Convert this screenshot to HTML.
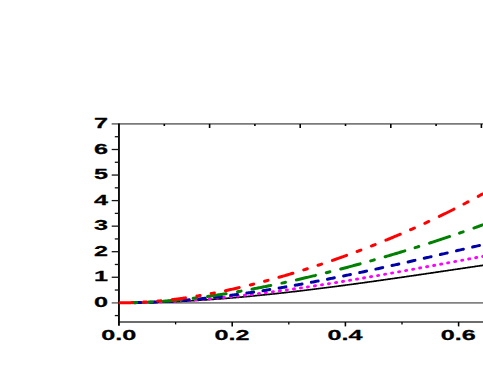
<!DOCTYPE html>
<html><head><meta charset="utf-8"><style>
html,body{margin:0;padding:0;background:#fff;}
body{width:483px;height:368px;overflow:hidden;font-family:"Liberation Sans",sans-serif;}
svg{display:block;position:absolute;left:0;top:0}
</style></head><body>
<svg width="483" height="368" viewBox="0 0 483 368">
<rect width="483" height="368" fill="#fff"/>
<line x1="111.7" y1="302.8" x2="483" y2="302.8" stroke="#828282" stroke-width="1.8"/>
<line x1="111.65" y1="123.90" x2="483" y2="123.90" stroke="#7a7a7a" stroke-width="1.8"/>
<line x1="118.95" y1="322.00" x2="483" y2="322.00" stroke="#6c6c6c" stroke-width="1.8"/>
<line x1="118.95" y1="123.40" x2="118.95" y2="325.70" stroke="#0a0a0a" stroke-width="1.9"/>
<g stroke="#141414" stroke-width="1.3" fill="none">
<line x1="114.8" y1="315.57" x2="119.0" y2="315.57"/>
<line x1="114.8" y1="290.03" x2="119.0" y2="290.03"/>
<line x1="111.7" y1="277.25" x2="119.0" y2="277.25"/>
<line x1="114.8" y1="264.48" x2="119.0" y2="264.48"/>
<line x1="111.7" y1="251.70" x2="119.0" y2="251.70"/>
<line x1="114.8" y1="238.93" x2="119.0" y2="238.93"/>
<line x1="111.7" y1="226.15" x2="119.0" y2="226.15"/>
<line x1="114.8" y1="213.38" x2="119.0" y2="213.38"/>
<line x1="111.7" y1="200.60" x2="119.0" y2="200.60"/>
<line x1="114.8" y1="187.82" x2="119.0" y2="187.82"/>
<line x1="111.7" y1="175.05" x2="119.0" y2="175.05"/>
<line x1="114.8" y1="162.28" x2="119.0" y2="162.28"/>
<line x1="111.7" y1="149.50" x2="119.0" y2="149.50"/>
<line x1="114.8" y1="136.72" x2="119.0" y2="136.72"/>
<line x1="175.60" y1="322.0" x2="175.60" y2="324.4" stroke="#000" stroke-width="1.30"/>
<line x1="232.20" y1="322.0" x2="232.20" y2="326.4" stroke="#000" stroke-width="1.55"/>
<line x1="288.80" y1="322.0" x2="288.80" y2="324.4" stroke="#000" stroke-width="1.30"/>
<line x1="345.40" y1="322.0" x2="345.40" y2="326.4" stroke="#000" stroke-width="1.55"/>
<line x1="402.00" y1="322.0" x2="402.00" y2="324.4" stroke="#000" stroke-width="1.30"/>
<line x1="458.60" y1="322.0" x2="458.60" y2="326.4" stroke="#000" stroke-width="1.55"/>
<line x1="164.30" y1="123.9" x2="164.30" y2="126.0" stroke="#000" stroke-width="1.6"/>
<line x1="209.60" y1="123.9" x2="209.60" y2="128.0" stroke="#000" stroke-width="1.6"/>
<line x1="254.90" y1="123.9" x2="254.90" y2="126.0" stroke="#000" stroke-width="1.6"/>
<line x1="300.20" y1="123.9" x2="300.20" y2="128.0" stroke="#000" stroke-width="1.6"/>
<line x1="345.50" y1="123.9" x2="345.50" y2="126.0" stroke="#000" stroke-width="1.6"/>
<line x1="390.80" y1="123.9" x2="390.80" y2="128.0" stroke="#000" stroke-width="1.6"/>
<line x1="436.10" y1="123.9" x2="436.10" y2="126.0" stroke="#000" stroke-width="1.6"/>
<line x1="481.40" y1="123.9" x2="481.40" y2="128.0" stroke="#000" stroke-width="1.6"/>
</g>
<g>
<path d="M131.50 302.72 L132.50 302.71 L133.50 302.70 L134.50 302.69 L135.50 302.68 L136.50 302.67 L137.50 302.66 L138.50 302.65 L139.50 302.63 L140.50 302.62 L141.50 302.60 L142.50 302.58 L143.50 302.57 L144.50 302.55 L145.50 302.53 L146.50 302.51 L147.50 302.49 L148.50 302.47 L149.50 302.44 L150.50 302.42 L151.50 302.40 L152.50 302.37 L153.50 302.35 L154.50 302.32 L155.50 302.29 L156.50 302.26 L157.50 302.24 L158.50 302.21 L159.50 302.17 L160.50 302.14 L161.50 302.11 L162.50 302.08 L163.50 302.04 L164.50 302.01 L165.50 301.97 L166.50 301.94 L167.50 301.90 L168.50 301.86 L169.50 301.83 L170.50 301.79 L171.50 301.75 L172.50 301.71 L173.50 301.67 L174.50 301.62 L175.50 301.58 L176.50 301.54 L177.50 301.49 L178.50 301.45 L179.50 301.40 L180.50 301.35 L181.50 301.30 L182.50 301.25 L183.50 301.20 L184.50 301.14 L185.50 301.09 L186.50 301.03 L187.50 300.98 L188.50 300.92 L189.50 300.87 L190.50 300.81 L191.50 300.75 L192.50 300.69 L193.50 300.64 L194.50 300.58 L195.50 300.51 L196.50 300.45 L197.50 300.39 L198.50 300.33 L199.50 300.27 L200.50 300.20 L201.50 300.14 L202.50 300.07 L203.50 300.01 L204.50 299.94 L205.50 299.87 L206.50 299.80 L207.50 299.73 L208.50 299.67 L209.50 299.60 L210.50 299.52 L211.50 299.45 L212.50 299.38 L213.50 299.31 L214.50 299.24 L215.50 299.16 L216.50 299.09 L217.50 299.01 L218.50 298.94 L219.50 298.86 L220.50 298.78 L221.50 298.71 L222.50 298.63 L223.50 298.55 L224.50 298.47 L225.50 298.39 L226.50 298.31 L227.50 298.23 L228.50 298.15 L229.50 298.06 L230.50 297.98 L231.50 297.90 L232.50 297.81 L233.50 297.73 L234.50 297.64 L235.50 297.56 L236.50 297.47 L237.50 297.38 L238.50 297.29 L239.50 297.21 L240.50 297.12 L241.50 297.03 L242.50 296.94 L243.50 296.85 L244.50 296.76 L245.50 296.66 L246.50 296.57 L247.50 296.48 L248.50 296.39 L249.50 296.29 L250.50 296.20 L251.50 296.10 L252.50 296.01 L253.50 295.91 L254.50 295.81 L255.50 295.72 L256.50 295.62 L257.50 295.52 L258.50 295.42 L259.50 295.32 L260.50 295.22 L261.50 295.12 L262.50 295.02 L263.50 294.92 L264.50 294.82 L265.50 294.72 L266.50 294.62 L267.50 294.51 L268.50 294.41 L269.50 294.30 L270.50 294.20 L271.50 294.09 L272.50 293.99 L273.50 293.88 L274.50 293.78 L275.50 293.67 L276.50 293.56 L277.50 293.45 L278.50 293.35 L279.50 293.24 L280.50 293.13 L281.50 293.02 L282.50 292.91 L283.50 292.80 L284.50 292.69 L285.50 292.57 L286.50 292.46 L287.50 292.35 L288.50 292.24 L289.50 292.12 L290.50 292.01 L291.50 291.89 L292.50 291.78 L293.50 291.66 L294.50 291.55 L295.50 291.43 L296.50 291.32 L297.50 291.20 L298.50 291.08 L299.50 290.97 L300.50 290.85 L301.50 290.73 L302.50 290.61 L303.50 290.49 L304.50 290.37 L305.50 290.25 L306.50 290.13 L307.50 290.01 L308.50 289.89 L309.50 289.77 L310.50 289.65 L311.50 289.52 L312.50 289.40 L313.50 289.28 L314.50 289.16 L315.50 289.03 L316.50 288.91 L317.50 288.78 L318.50 288.66 L319.50 288.53 L320.50 288.41 L321.50 288.28 L322.50 288.16 L323.50 288.03 L324.50 287.90 L325.50 287.78 L326.50 287.65 L327.50 287.52 L328.50 287.39 L329.50 287.26 L330.50 287.13 L331.50 287.01 L332.50 286.88 L333.50 286.75 L334.50 286.62 L335.50 286.49 L336.50 286.36 L337.50 286.22 L338.50 286.09 L339.50 285.96 L340.50 285.83 L341.50 285.70 L342.50 285.57 L343.50 285.43 L344.50 285.30 L345.50 285.17 L346.50 285.03 L347.50 284.90 L348.50 284.76 L349.50 284.63 L350.50 284.50 L351.50 284.36 L352.50 284.22 L353.50 284.09 L354.50 283.95 L355.50 283.82 L356.50 283.68 L357.50 283.54 L358.50 283.41 L359.50 283.27 L360.50 283.13 L361.50 283.00 L362.50 282.86 L363.50 282.72 L364.50 282.58 L365.50 282.44 L366.50 282.31 L367.50 282.17 L368.50 282.03 L369.50 281.89 L370.50 281.75 L371.50 281.61 L372.50 281.47 L373.50 281.33 L374.50 281.19 L375.50 281.05 L376.50 280.91 L377.50 280.77 L378.50 280.63 L379.50 280.48 L380.50 280.34 L381.50 280.20 L382.50 280.06 L383.50 279.92 L384.50 279.77 L385.50 279.63 L386.50 279.49 L387.50 279.35 L388.50 279.20 L389.50 279.06 L390.50 278.92 L391.50 278.77 L392.50 278.63 L393.50 278.49 L394.50 278.34 L395.50 278.20 L396.50 278.05 L397.50 277.91 L398.50 277.77 L399.50 277.62 L400.50 277.48 L401.50 277.33 L402.50 277.19 L403.50 277.04 L404.50 276.90 L405.50 276.75 L406.50 276.61 L407.50 276.46 L408.50 276.31 L409.50 276.17 L410.50 276.02 L411.50 275.88 L412.50 275.73 L413.50 275.58 L414.50 275.44 L415.50 275.29 L416.50 275.14 L417.50 275.00 L418.50 274.85 L419.50 274.70 L420.50 274.56 L421.50 274.41 L422.50 274.26 L423.50 274.12 L424.50 273.97 L425.50 273.82 L426.50 273.67 L427.50 273.53 L428.50 273.38 L429.50 273.23 L430.50 273.08 L431.50 272.94 L432.50 272.79 L433.50 272.64 L434.50 272.49 L435.50 272.35 L436.50 272.20 L437.50 272.05 L438.50 271.90 L439.50 271.75 L440.50 271.61 L441.50 271.46 L442.50 271.31 L443.50 271.16 L444.50 271.01 L445.50 270.87 L446.50 270.72 L447.50 270.57 L448.50 270.42 L449.50 270.27 L450.50 270.13 L451.50 269.98 L452.50 269.83 L453.50 269.68 L454.50 269.53 L455.50 269.39 L456.50 269.24 L457.50 269.09 L458.50 268.94 L459.50 268.79 L460.50 268.64 L461.50 268.50 L462.50 268.35 L463.50 268.20 L464.50 268.05 L465.50 267.91 L466.50 267.76 L467.50 267.61 L468.50 267.46 L469.50 267.31 L470.50 267.17 L471.50 267.02 L472.50 266.87 L473.50 266.72 L474.50 266.58 L475.50 266.43 L476.50 266.28 L477.50 266.13 L478.50 265.99 L479.50 265.84 L480.50 265.69 L481.50 265.55 L482.50 265.40 L483.50 265.25 L484.50 265.11 L485.50 264.96 L486.00 264.89" stroke="#000000" stroke-width="1.70" fill="none"/>
<path d="M132.60 302.67 L133.22 302.66 M139.23 302.56 L140.23 302.54 L140.23 302.54 M146.24 302.40 L147.24 302.37 L147.24 302.37 M153.25 302.18 L154.25 302.15 L154.25 302.15 M160.26 301.92 L161.26 301.88 L161.26 301.88 M167.27 301.61 L168.27 301.56 L168.27 301.56 M174.28 301.25 L175.28 301.20 L175.28 301.20 M181.29 300.85 L182.29 300.78 L182.29 300.78 M188.30 300.39 L189.30 300.32 L189.30 300.32 M195.31 299.89 L196.31 299.81 L196.31 299.81 M202.32 299.35 L203.32 299.26 L203.32 299.26 M209.32 298.76 L210.32 298.68 L210.34 298.68 M216.33 298.14 L217.33 298.05 L217.35 298.05 M223.34 297.48 L224.34 297.38 L224.36 297.38 M230.35 296.78 L231.35 296.68 L231.37 296.68 M237.36 296.05 L238.36 295.94 L238.38 295.94 M244.37 295.28 L245.37 295.17 L245.39 295.17 M251.38 294.48 L252.38 294.36 L252.40 294.36 M258.39 293.64 L259.39 293.52 L259.41 293.52 M265.40 292.78 L266.40 292.65 L266.42 292.65 M272.41 291.88 L273.41 291.75 L273.43 291.75 M279.42 290.95 L280.42 290.82 L280.44 290.82 M286.43 290.00 L287.43 289.86 L287.45 289.86 M293.44 289.02 L294.44 288.88 L294.46 288.87 M300.44 288.01 L301.44 287.87 L301.48 287.86 M307.45 286.98 L308.45 286.83 L308.49 286.83 M314.46 285.93 L315.46 285.77 L315.50 285.77 M321.47 284.85 L322.47 284.69 L322.51 284.69 M328.48 283.75 L329.48 283.59 L329.52 283.59 M335.49 282.63 L336.49 282.47 L336.53 282.46 M342.50 281.49 L343.50 281.33 L343.54 281.32 M349.51 280.34 L350.51 280.17 L350.55 280.16 M356.52 279.16 L357.52 279.00 L357.56 278.99 M363.53 277.98 L364.53 277.80 L364.57 277.80 M370.54 276.77 L371.54 276.60 L371.58 276.59 M377.55 275.56 L378.55 275.38 L378.59 275.37 M384.56 274.33 L385.56 274.15 L385.60 274.14 M391.57 273.09 L392.57 272.91 L392.61 272.90 M398.58 271.84 L399.58 271.66 L399.62 271.65 M405.59 270.58 L406.59 270.40 L406.63 270.39 M412.60 269.31 L413.60 269.13 L413.64 269.12 M419.61 268.03 L420.61 267.85 L420.65 267.84 M426.62 266.75 L427.62 266.57 L427.66 266.56 M433.63 265.47 L434.63 265.29 L434.67 265.28 M440.64 264.18 L441.64 264.00 L441.68 263.99 M447.65 262.89 L448.65 262.71 L448.69 262.70 M454.66 261.60 L455.66 261.41 L455.70 261.41 M461.67 260.31 L462.67 260.12 L462.71 260.11 M468.68 259.02 L469.68 258.83 L469.72 258.82 M475.69 257.73 L476.69 257.54 L476.73 257.54 M482.70 256.44 L483.70 256.26 L483.74 256.25" stroke="#ff00ff" stroke-width="2.90" stroke-linecap="round" stroke-linejoin="round" fill="none"/>
<path d="M133.93 302.67 L134.93 302.65 L135.93 302.64 L136.93 302.62 L137.93 302.60 L138.93 302.57 L139.93 302.55 L140.73 302.53 M150.06 302.24 L151.06 302.21 L152.06 302.17 L153.06 302.13 L154.06 302.09 L155.06 302.05 L156.06 302.00 L156.86 301.97 M166.19 301.49 L167.19 301.43 L168.19 301.37 L169.19 301.31 L170.19 301.25 L171.19 301.19 L172.19 301.13 L172.99 301.08 M182.31 300.41 L183.31 300.33 L184.31 300.25 L185.31 300.16 L186.31 300.08 L187.31 299.99 L188.31 299.91 L189.13 299.84 M198.44 298.97 L199.44 298.87 L200.44 298.77 L201.44 298.67 L202.44 298.57 L203.44 298.47 L204.44 298.36 L205.26 298.28 M214.57 297.26 L215.57 297.15 L216.57 297.03 L217.57 296.91 L218.57 296.80 L219.57 296.68 L220.57 296.56 L221.39 296.46 M230.70 295.30 L231.70 295.17 L232.70 295.04 L233.70 294.90 L234.70 294.77 L235.70 294.64 L236.70 294.50 L237.52 294.39 M246.82 293.10 L247.82 292.95 L248.82 292.81 L249.82 292.66 L250.82 292.52 L251.82 292.37 L252.82 292.22 L253.66 292.10 M262.95 290.68 L263.95 290.52 L264.95 290.36 L265.95 290.21 L266.95 290.05 L267.95 289.89 L268.95 289.73 L269.79 289.59 M279.08 288.06 L280.08 287.89 L281.08 287.72 L282.08 287.55 L283.08 287.38 L284.08 287.21 L285.08 287.04 L285.92 286.89 M295.21 285.26 L296.21 285.08 L297.21 284.90 L298.21 284.72 L299.21 284.54 L300.21 284.36 L301.21 284.17 L302.05 284.02 M311.33 282.29 L312.33 282.11 L313.33 281.92 L314.33 281.73 L315.33 281.53 L316.33 281.34 L317.33 281.15 L318.19 280.99 M327.46 279.18 L328.46 278.98 L329.46 278.78 L330.46 278.58 L331.46 278.39 L332.46 278.19 L333.46 277.99 L334.32 277.81 M343.59 275.93 L344.59 275.73 L345.59 275.52 L346.59 275.31 L347.59 275.11 L348.59 274.90 L349.59 274.69 L350.45 274.51 M359.72 272.57 L360.72 272.36 L361.72 272.14 L362.72 271.93 L363.72 271.72 L364.72 271.50 L365.72 271.29 L366.58 271.10 M375.85 269.10 L376.85 268.89 L377.85 268.67 L378.85 268.45 L379.85 268.23 L380.85 268.01 L381.85 267.79 L382.71 267.60 M391.97 265.55 L392.97 265.33 L393.97 265.11 L394.97 264.88 L395.97 264.66 L396.97 264.44 L397.97 264.21 L398.85 264.02 M408.10 261.93 L409.10 261.71 L410.10 261.48 L411.10 261.25 L412.10 261.03 L413.10 260.80 L414.10 260.57 L414.98 260.37 M424.23 258.26 L425.23 258.03 L426.23 257.80 L427.23 257.57 L428.23 257.34 L429.23 257.11 L430.23 256.88 L431.11 256.68 M440.36 254.54 L441.36 254.31 L442.36 254.08 L443.36 253.84 L444.36 253.61 L445.36 253.38 L446.36 253.15 L447.24 252.95 M456.49 250.80 L457.49 250.56 L458.49 250.33 L459.49 250.10 L460.49 249.86 L461.49 249.63 L462.49 249.40 L463.37 249.19 M472.62 247.04 L473.62 246.81 L474.62 246.57 L475.62 246.34 L476.62 246.11 L477.62 245.87 L478.62 245.64 L479.50 245.44" stroke="#0000a8" stroke-width="3.00" stroke-linecap="round" stroke-linejoin="round" fill="none"/>
<path d="M132.60 302.64 L133.60 302.62 L134.60 302.60 L135.60 302.57 L136.60 302.55 L136.77 302.54 M148.75 302.08 L149.75 302.03 L150.75 301.98 L151.75 301.93 L152.25 301.90 M163.19 301.21 L164.19 301.13 L165.19 301.06 L166.19 300.98 L167.19 300.90 L168.19 300.83 L169.19 300.75 L170.19 300.66 L171.19 300.58 L172.19 300.49 L173.19 300.41 L174.19 300.32 L175.19 300.23 L176.19 300.14 L177.19 300.05 L178.19 299.95 L179.19 299.86 L180.19 299.76 L181.19 299.65 L181.44 299.63 M193.14 298.31 L194.14 298.19 L195.14 298.07 L196.14 297.95 L196.66 297.88 M207.58 296.44 L208.58 296.30 L209.58 296.16 L210.58 296.02 L211.58 295.88 L212.58 295.73 L213.58 295.59 L214.58 295.44 L215.58 295.29 L216.58 295.14 L217.58 294.99 L218.58 294.84 L219.58 294.69 L220.58 294.54 L221.58 294.38 L222.58 294.23 L223.58 294.07 L224.58 293.91 L225.58 293.75 L226.12 293.67 M237.53 291.76 L238.53 291.59 L239.53 291.41 L240.53 291.24 L241.07 291.14 M251.97 289.15 L252.97 288.96 L253.97 288.77 L254.97 288.58 L255.97 288.39 L256.97 288.20 L257.97 288.01 L258.97 287.81 L259.97 287.62 L260.97 287.42 L261.97 287.22 L262.97 287.03 L263.97 286.83 L264.97 286.63 L265.97 286.43 L266.97 286.22 L267.97 286.02 L268.97 285.82 L269.97 285.61 L270.80 285.44 M281.92 283.10 L282.92 282.89 L283.92 282.67 L284.92 282.45 L285.48 282.33 M296.36 279.90 L297.36 279.67 L298.36 279.44 L299.36 279.21 L300.36 278.98 L301.36 278.75 L302.36 278.52 L303.36 278.29 L304.36 278.05 L305.36 277.82 L306.36 277.58 L307.36 277.35 L308.36 277.11 L309.36 276.87 L310.36 276.63 L311.36 276.39 L312.36 276.15 L313.36 275.91 L314.36 275.67 L315.36 275.43 L315.47 275.40 M326.30 272.73 L327.30 272.48 L328.30 272.22 L329.30 271.97 L329.90 271.82 M340.75 269.03 L341.75 268.77 L342.75 268.50 L343.75 268.24 L344.75 267.98 L345.75 267.71 L346.75 267.45 L347.75 267.18 L348.75 266.92 L349.75 266.65 L350.75 266.38 L351.75 266.11 L352.75 265.84 L353.75 265.57 L354.75 265.30 L355.75 265.03 L356.75 264.76 L357.75 264.48 L358.75 264.21 L359.75 263.94 L360.15 263.83 M370.69 260.89 L371.69 260.61 L372.69 260.32 L373.69 260.04 L374.31 259.87 M385.14 256.74 L386.14 256.45 L387.14 256.16 L388.14 255.86 L389.14 255.57 L390.14 255.28 L391.14 254.98 L392.14 254.68 L393.14 254.39 L394.14 254.09 L395.14 253.79 L396.14 253.49 L397.14 253.19 L398.14 252.89 L399.14 252.59 L400.14 252.29 L401.14 251.99 L402.14 251.68 L403.14 251.38 L404.14 251.07 L404.83 250.86 M415.08 247.69 L416.08 247.38 L417.08 247.07 L418.08 246.75 L418.72 246.55 M429.52 243.11 L430.52 242.78 L431.52 242.46 L432.52 242.14 L433.52 241.81 L434.52 241.48 L435.52 241.16 L436.52 240.83 L437.52 240.50 L438.52 240.17 L439.52 239.84 L440.52 239.51 L441.52 239.18 L442.52 238.85 L443.52 238.52 L444.52 238.18 L445.52 237.85 L446.52 237.51 L447.52 237.18 L448.52 236.84 L449.51 236.51 M459.47 233.11 L460.47 232.77 L461.47 232.42 L462.47 232.07 L463.13 231.84 M473.91 228.04 L474.91 227.68 L475.91 227.33 L476.91 226.97 L477.91 226.61 L478.91 226.25 L479.91 225.89 L480.91 225.52 L481.91 225.16 L482.91 224.80 L483.91 224.43 L484.91 224.06 L485.91 223.70 L486.91 223.33 L487.91 222.96 L488.91 222.59 L489.91 222.22 L490.91 221.85 L491.91 221.48 L492.91 221.11 L493.91 220.73 L494.19 220.63" stroke="#008000" stroke-width="3.00" stroke-linecap="round" stroke-linejoin="round" fill="none"/>
<path d="M119.90 302.75 L120.90 302.75 L121.90 302.75 L122.90 302.75 L123.90 302.74 L124.90 302.73 L125.90 302.72 L126.90 302.71 L127.90 302.69 L128.90 302.67 L129.90 302.65 L130.90 302.63 L131.90 302.60 L132.10 302.60 M143.45 302.12 L144.45 302.06 L145.45 302.01 L146.45 301.95 L146.55 301.94 M157.75 301.10 L158.75 301.02 L159.75 300.93 L160.75 300.83 L160.85 300.82 M171.99 299.66 L172.99 299.54 L173.99 299.42 L174.99 299.30 L175.99 299.18 L176.99 299.05 L177.99 298.93 L178.99 298.80 L179.99 298.66 L180.99 298.53 L181.99 298.39 L182.99 298.25 L183.99 298.10 L184.99 297.96 L185.51 297.88 M196.88 296.10 L197.88 295.93 L198.88 295.77 L199.88 295.59 L200.12 295.55 M211.17 293.55 L212.17 293.36 L213.17 293.16 L214.17 292.97 L214.43 292.92 M225.46 290.66 L226.46 290.45 L227.46 290.24 L228.46 290.02 L229.46 289.80 L230.46 289.58 L231.46 289.36 L232.46 289.14 L233.46 288.92 L234.46 288.69 L235.46 288.46 L236.46 288.24 L237.46 288.01 L238.46 287.78 L239.20 287.61 M250.30 284.94 L251.30 284.69 L252.30 284.44 L253.30 284.19 L253.70 284.09 M264.59 281.26 L265.59 280.99 L266.59 280.73 L267.59 280.46 L268.01 280.35 M278.94 277.31 L279.94 277.02 L280.94 276.74 L281.94 276.45 L282.94 276.16 L283.94 275.87 L284.94 275.58 L285.94 275.29 L286.94 275.00 L287.94 274.70 L288.94 274.40 L289.94 274.11 L290.94 273.81 L291.94 273.51 L292.88 273.23 M303.72 269.89 L304.72 269.58 L305.72 269.26 L306.72 268.95 L307.28 268.77 M318.02 265.29 L319.02 264.96 L320.02 264.63 L321.02 264.30 L321.58 264.11 M332.41 260.42 L333.41 260.07 L334.41 259.72 L335.41 259.37 L336.41 259.02 L337.41 258.67 L338.41 258.32 L339.41 257.96 L340.41 257.61 L341.41 257.25 L342.41 256.90 L343.41 256.54 L344.41 256.18 L345.41 255.82 L346.41 255.45 L346.57 255.40 M357.14 251.50 L358.14 251.12 L359.14 250.74 L360.14 250.37 L360.86 250.10 M371.43 246.02 L372.43 245.62 L373.43 245.23 L374.43 244.84 L375.17 244.55 M385.88 240.23 L386.88 239.82 L387.88 239.40 L388.88 238.99 L389.88 238.58 L390.88 238.16 L391.88 237.75 L392.88 237.33 L393.88 236.91 L394.88 236.49 L395.88 236.07 L396.88 235.64 L397.88 235.22 L398.88 234.79 L399.88 234.37 L400.26 234.21 M410.56 229.73 L411.56 229.28 L412.56 228.84 L413.56 228.39 L414.44 228.00 M424.85 223.27 L425.85 222.81 L426.85 222.34 L427.85 221.88 L428.75 221.45 M439.34 216.41 L440.34 215.93 L441.34 215.44 L442.34 214.95 L443.34 214.46 L444.34 213.97 L445.34 213.48 L446.34 212.99 L447.34 212.49 L448.34 211.99 L449.34 211.49 L450.34 210.99 L451.34 210.49 L452.34 209.99 L453.34 209.48 L453.96 209.17 M463.96 204.01 L464.96 203.48 L465.96 202.96 L466.96 202.43 L467.96 201.89 L468.04 201.85 M478.24 196.33 L479.24 195.77 L480.24 195.22 L481.24 194.66 L482.24 194.11 L482.36 194.04" stroke="#ff0000" stroke-width="3.00" stroke-linecap="round" stroke-linejoin="round" fill="none"/>
</g>
<g fill="#000" stroke="#000" stroke-width="0.25" stroke-linejoin="round" font-family="'Liberation Sans', sans-serif" font-weight="bold" font-size="15">
<text transform="translate(94.08 306.85) scale(1.68 1)" x="0" y="0">0</text>
<text transform="translate(94.08 281.30) scale(1.68 1)" x="0" y="0">1</text>
<text transform="translate(94.08 255.75) scale(1.68 1)" x="0" y="0">2</text>
<text transform="translate(94.08 230.20) scale(1.68 1)" x="0" y="0">3</text>
<text transform="translate(94.08 204.65) scale(1.68 1)" x="0" y="0">4</text>
<text transform="translate(94.08 179.10) scale(1.68 1)" x="0" y="0">5</text>
<text transform="translate(94.08 153.55) scale(1.68 1)" x="0" y="0">6</text>
<text transform="translate(94.08 128.00) scale(1.68 1)" x="0" y="0">7</text>
<text transform="translate(101.18 339.75) scale(1.68 1)" x="0" y="0">0.0</text>
<text transform="translate(214.38 339.75) scale(1.68 1)" x="0" y="0">0.2</text>
<text transform="translate(327.58 339.75) scale(1.68 1)" x="0" y="0">0.4</text>
<text transform="translate(440.78 339.75) scale(1.68 1)" x="0" y="0">0.6</text>
</g>
</svg>
</body></html>
